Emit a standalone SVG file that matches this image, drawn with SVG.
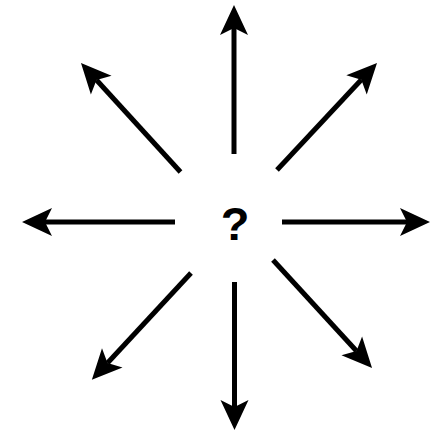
<svg xmlns="http://www.w3.org/2000/svg" width="439" height="432" viewBox="0 0 439 432">
<style>
.c line{stroke:#000;stroke-width:5;fill:none;marker-end:url(#ah)}
.q{font-family:"Liberation Sans",Arial,sans-serif;font-weight:bold;font-size:47px;fill:#000}
</style>
<defs>
<marker id="ah" markerUnits="userSpaceOnUse" viewBox="-8 -15 32 30" refX="0" refY="0" markerWidth="32" markerHeight="30" orient="auto" overflow="visible">
<path d="M-7,-14 L23,0 L-7,14 L0,0 Z" fill="#000"/>
</marker>
</defs>
<rect width="439" height="432" fill="#fff"/>
<g id="center"><text class="q" x="235" y="239.5" text-anchor="middle">?</text></g>
<g id="connectors" class="c">
<line x1="234" y1="154" x2="234" y2="28"/>
<line x1="234.5" y1="282" x2="234.5" y2="407"/>
<line x1="175" y1="222" x2="45" y2="222"/>
<line x1="282" y1="222" x2="407" y2="222"/>
<line x1="180.5" y1="172" x2="96.5" y2="80"/>
<line x1="277" y1="170" x2="361.3" y2="79.8"/>
<line x1="191" y1="273" x2="107.5" y2="363"/>
<line x1="273" y1="260" x2="356.5" y2="351"/>
</g>
</svg>
